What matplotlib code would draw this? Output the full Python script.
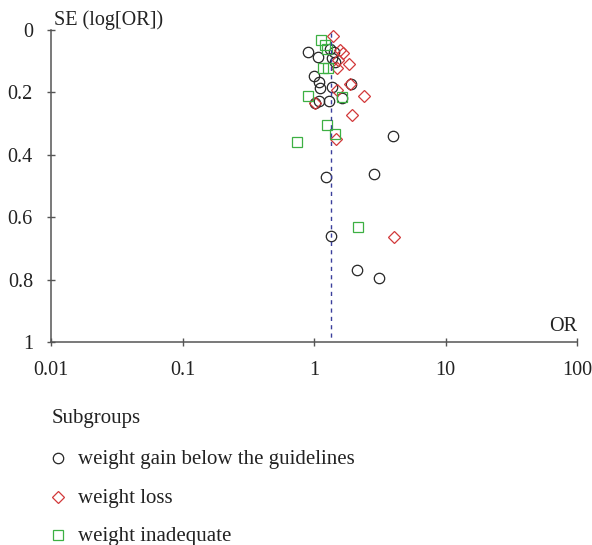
import matplotlib
matplotlib.use("Agg")
import matplotlib.pyplot as plt
from matplotlib.lines import Line2D

plt.rcParams["font.family"] = ["Liberation Serif", "DejaVu Serif"]

# weight gain below the guidelines (black circles)
or_below = [0.905, 1.07, 1.32, 1.43, 1.38, 1.44, 1.00, 1.09, 1.11, 1.36, 1.91,
            1.09, 1.31, 1.62, 1.02, 3.99, 1.23, 2.86, 1.35, 2.12, 3.12]
se_below = [0.070, 0.088, 0.061, 0.070, 0.089, 0.102, 0.147, 0.166, 0.187, 0.182, 0.173,
            0.227, 0.227, 0.219, 0.233, 0.340, 0.470, 0.460, 0.660, 0.770, 0.795]

# weight loss (red diamonds)
or_loss = [1.39, 1.58, 1.67, 1.53, 1.85, 1.49, 1.88, 1.49, 2.40, 1.02, 1.94, 1.47, 4.06]
se_loss = [0.018, 0.064, 0.075, 0.096, 0.110, 0.121, 0.173, 0.192, 0.210, 0.233, 0.271, 0.350, 0.663]

# weight inadequate (green squares)
or_inad = [1.14, 1.21, 1.25, 1.18, 1.28, 0.905, 1.64, 1.25, 1.44, 0.746, 2.17]
se_inad = [0.032, 0.048, 0.061, 0.121, 0.121, 0.210, 0.216, 0.304, 0.333, 0.358, 0.632]

pooled_or = 1.35

x_ticks = [0.01, 0.1, 1, 10, 100]
x_labels = ["0.01", "0.1", "1", "10", "100"]
y_ticks = [0, 0.2, 0.4, 0.6, 0.8, 1]
y_labels = ["0", "0.2", "0.4", "0.6", "0.8", "1"]

groups = ["weight gain below the guidelines", "weight loss", "weight inadequate"]

c_black = "#262626"
c_red = "#d2383a"
c_green = "#3db043"
c_axis = "#555555"
c_text = "#222222"
fs = 14.5

W, H = 592, 545
fig = plt.figure(figsize=(W / 100, H / 100), dpi=100)
ax = fig.add_axes([51 / W, 1 - 342 / H, 526 / W, 312 / H])

styles = [
    dict(marker="o", ms=7.5, mfc="none", mec=c_black, mew=0.9, ls="none"),
    dict(marker="D", ms=6.5, mfc="none", mec=c_red, mew=0.9, ls="none"),
    dict(marker="s", ms=6.5, mfc="none", mec=c_green, mew=0.9, ls="none"),
]

ax.plot(or_below, se_below, **styles[0])
ax.plot(or_loss, se_loss, **styles[1])
ax.plot(or_inad, se_inad, **styles[2])
ax.plot([pooled_or, pooled_or], [0.01, 0.99], ls=(0, (3, 3)), color="#3b3f9c", lw=1)

ax.set_xscale("log")
ax.set_xlim(0.01, 100)
ax.set_ylim(1, 0)
ax.set_xticks(x_ticks)
ax.set_xticklabels(x_labels)
ax.set_yticks(y_ticks)
ax.set_yticklabels(y_labels)
ax.minorticks_off()

for side in ["top", "right"]:
    ax.spines[side].set_visible(False)
for side in ["left", "bottom"]:
    ax.spines[side].set_color(c_axis)
    ax.spines[side].set_linewidth(1.1)
ax.tick_params(axis="both", direction="inout", length=6, width=1, color=c_axis,
               labelsize=fs, labelcolor=c_text)
ax.tick_params(axis="x", pad=11)
ax.tick_params(axis="y", pad=10)

fig.text(54 / W, 1 - 20 / H, "SE (log[OR])", fontsize=fs, color=c_text, va="center")
ax.text(1.0, 0.05, "OR", transform=ax.transAxes, fontsize=fs, color=c_text,
        ha="right", va="center")

# legend
fig.text(52 / W, 1 - 418 / H, "Subgroups", fontsize=15, color=c_text, va="center")
for i, (name, st) in enumerate(zip(groups, styles)):
    y = 1 - (458 + 38.5 * i) / H
    fig.add_artist(Line2D([58 / W], [y], transform=fig.transFigure, **st))
    fig.text(78 / W, y - 1.5 / H, name, fontsize=15, color=c_text, va="center")

fig.savefig("out.png", dpi=100)
